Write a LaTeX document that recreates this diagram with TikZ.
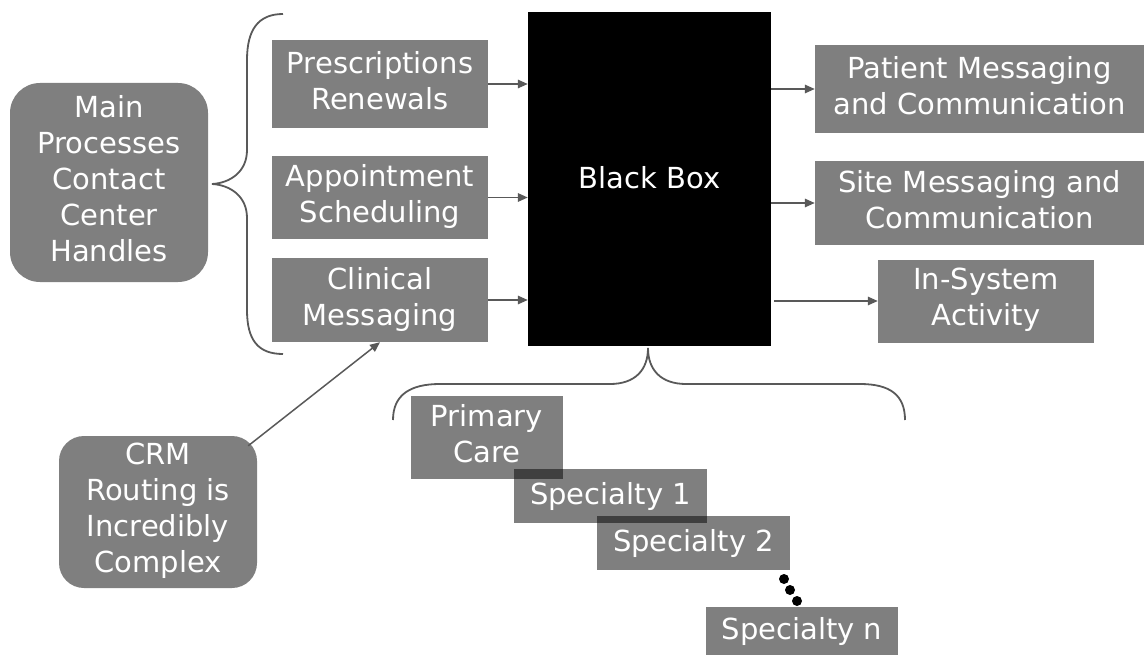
\documentclass[tikz,border=0pt]{standalone}
\usepackage{fontspec}
\setmainfont{DejaVu Sans}
\usetikzlibrary{arrows.meta,calc}
\definecolor{linegray}{HTML}{595959}
\tikzset{
  gbox/.style={rectangle, fill=black, fill opacity=0.5, text opacity=1, text=white,
    inner sep=0pt, align=center, font=\fontsize{29}{36}\selectfont},
  ml/.style={text depth=8pt},
  rbox/.style={gbox, ml, rounded corners=#1},
  arr/.style={draw=linegray, line width=1.5pt, -{Triangle[length=10pt,width=8.5pt]}},
  bracel/.style={draw=linegray, line width=1.8pt},
}
\begin{document}
\begin{tikzpicture}[x=1pt,y=-1pt]
\useasboundingbox (0,0) rectangle (1146,655);
% braces
\draw[bracel] (283,14) .. controls (258,14) and (247,30) .. (247,60) -- (247,150)
  .. controls (247,172) and (230,183) .. (212,184)
  .. controls (230,185) and (247,196) .. (247,218) -- (247,310)
  .. controls (247,340) and (258,354) .. (283,354);
\draw[bracel] (393,420) .. controls (393,395) and (410,384) .. (440,384) -- (610,384)
  .. controls (635,384) and (648,370) .. (648,348)
  .. controls (648,370) and (661,384) .. (686,384) -- (860,384)
  .. controls (890,384) and (905,395) .. (905,420);
% nodes
\node[rbox=30pt, minimum width=198pt, minimum height=199pt] (main) at (109,182.5) {Main\\Processes\\Contact\\Center\\Handles};
\node[gbox, ml, minimum width=216pt, minimum height=88pt] (presc) at (380,84) {Prescriptions\\Renewals};
\node[gbox, ml, minimum width=216pt, minimum height=83pt] (appt) at (380,197.5) {Appointment\\Scheduling};
\node[gbox, ml, minimum width=216pt, minimum height=84pt] (clin) at (380,300) {Clinical\\Messaging};
\node[rectangle, fill=black, inner sep=0pt,
  minimum width=243pt, minimum height=334pt] (bb) at (649.5,179) {};
\node[text=white, font=\fontsize{29}{36}\selectfont, inner sep=0pt] (bbt) at (649.5,178) {Black Box};
\node[gbox, ml, minimum width=329pt, minimum height=88pt] (pm) at (979.5,89) {Patient Messaging\\and Communication};
\node[gbox, ml, minimum width=329pt, minimum height=84pt] (site) at (979.5,203) {Site Messaging and\\Communication};
\node[gbox, ml, minimum width=216pt, minimum height=83pt] (ins) at (986,301) {In-System\\Activity};
\node[gbox, ml, minimum width=152pt, minimum height=83pt] (prim) at (487,437.5) {Primary\\Care};
\node[gbox, minimum width=193pt, minimum height=54pt] (sp1) at (610.5,496) {Specialty 1};
\node[gbox, minimum width=193pt, minimum height=54pt] (sp2) at (693.5,543) {Specialty 2};
\node[gbox, minimum width=192pt, minimum height=48pt] (spn) at (802,631) {Specialty n};
\node[rbox=25pt, minimum width=198pt, minimum height=152pt] (crm) at (158,512) {CRM\\Routing is\\Incredibly\\Complex};
% dots
\fill (784,579) circle (5pt) (790,590) circle (5pt) (797,601) circle (5pt);
% arrows
\draw[arr] (presc.east) -- (presc.east -| bb.west);
\draw[arr] (appt.east) -- (appt.east -| bb.west);
\draw[arr] (clin.east) -- (clin.east -| bb.west);
\draw[arr] (bb.east |- pm.west) -- (pm.west);
\draw[arr] (bb.east |- site.west) -- (site.west);
\draw[arr, shorten <=3pt] (bb.east |- ins.west) -- (ins.west);
\coordinate (crmc) at ($(crm.north east)+(-9,10)$);
\draw[arr] (crmc) -- (clin.south);
\end{tikzpicture}
\end{document}
